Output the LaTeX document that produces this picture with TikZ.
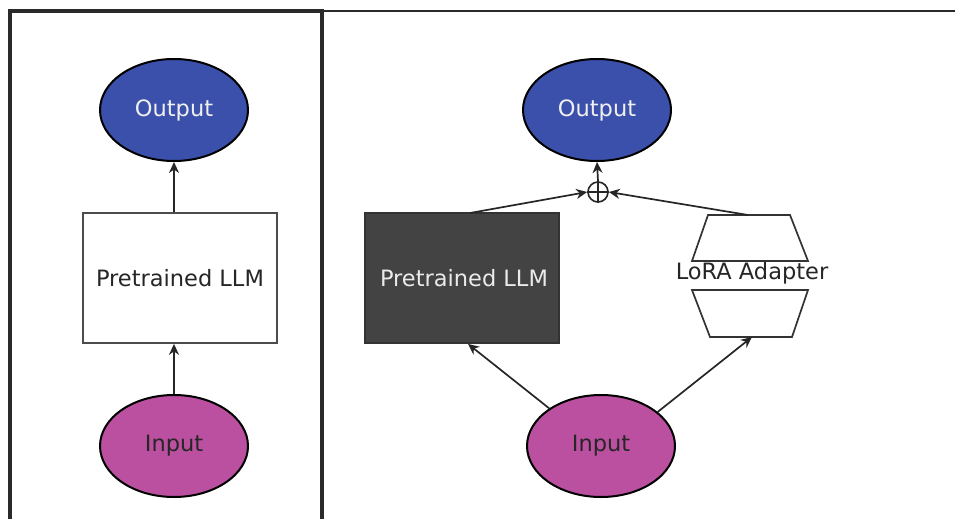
\documentclass[tikz,border=0pt]{standalone}
\usepackage{fontspec}
\setmainfont{DejaVu Sans}
\usetikzlibrary{arrows.meta,shapes.geometric}
\definecolor{outblue}{HTML}{3B50AA}
\definecolor{inmag}{HTML}{BA509F}
\definecolor{darkbox}{HTML}{434343}
\definecolor{frameline}{HTML}{2A2A2A}
\tikzset{
  lbl/.style={font=\fontsize{22.5}{26}\selectfont},
  outnode/.style={ellipse, draw=black, line width=2pt, fill=outblue, text=white!94!black,
    minimum width=148pt, minimum height=102pt, inner sep=0pt, lbl},
  innode/.style={ellipse, draw=black, line width=2pt, fill=inmag, text=black!85,
    minimum width=148pt, minimum height=102pt, inner sep=0pt, lbl},
  llmbox/.style={rectangle, draw=black!70, line width=1.8pt, minimum width=194pt,
    minimum height=130pt, inner sep=0pt, lbl},
  conn/.style={draw=black!85, line width=1.7pt, -{Stealth[length=11pt,width=10pt]}},
  trap/.style={draw=black!80, line width=1.7pt},
  frame/.style={draw=frameline, line width=3.2pt},
}
\begin{document}
\begin{tikzpicture}[x=1pt,y=-1pt]
\useasboundingbox (0,0) rectangle (955,519);
\fill[white] (0,0) rectangle (955,519);
% frames
\draw[frame] (10,519) -- (10,11) -- (322,11) -- (322,519);
\draw[draw=frameline, line width=2.4pt] (322,11) -- (955,11);

% left column
\node[outnode] (lout) at (174,110) {Output};
\node[llmbox, fill=white, text=black!85] (lllm) at (180,278) {Pretrained LLM};
\node[innode] (lin) at (174,446) {Input};
\draw[conn] (lin.north) -- (lllm.south -| lin.north);
\draw[conn] (lllm.north -| lout.south) -- (lout.south);

% right column
\node[outnode] (rout) at (597,110) {Output};
\node[circle, draw=black!85, line width=1.6pt, minimum size=20pt, inner sep=0pt] (plus) at (598,192) {};
\draw[black!85, line width=1.6pt] (plus.north) -- (plus.south) (plus.west) -- (plus.east);
\node[llmbox, fill=darkbox, draw=black!80, text=white!92!black] (rllm) at (462,278) {\hspace*{4pt}Pretrained LLM};
\node[innode] (rin) at (601,446) {Input};

% LoRA adapter
\node[lbl, text=black!85] (lora) at (752,273) {LoRA Adapter};
\coordinate (atop) at (748,215);
\coordinate (abot) at (752,337);
\draw[trap, fill=white] (708,215) -- (790,215) -- (808,261) -- (692,261) -- cycle;
\draw[trap, fill=white] (692,290) -- (808,290) -- (792,337) -- (710,337) -- cycle;

% connectors
\coordinate (rllmtop) at (470,213);
\draw[conn] (rllmtop) -- (plus.west);
\draw[conn] (atop) -- (plus.east);
\draw[conn] (plus.north) -- (rout.south);
\draw[conn] (rin.144) -- (rllm.south -| 468,0);
\draw[conn] (rin.31) -- (abot);
\end{tikzpicture}
\end{document}
